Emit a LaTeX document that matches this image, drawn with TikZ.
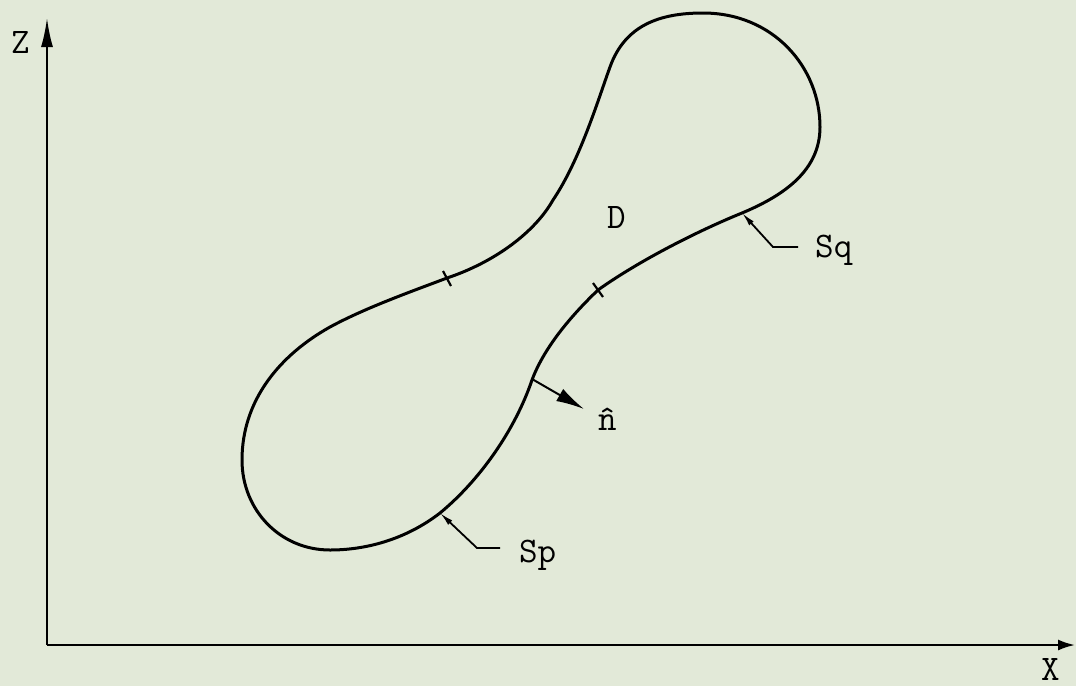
\documentclass[tikz,border=0pt]{standalone}
\usepackage{xcolor}
\usetikzlibrary{arrows.meta}
\definecolor{paper}{HTML}{E2E9D8}

\begin{document}
\begin{tikzpicture}[x=1pt,y=-1pt,
  axis/.style={line width=2.2pt,draw=black},
  bound/.style={line width=3pt,draw=black,line join=round},
  lbl/.style={font=\fontsize{36}{42}\selectfont\ttfamily,inner sep=0pt,anchor=base west},
  lead/.style={line width=1.8pt,{Latex[length=14pt,width=6pt]}-},
  tickmark/.style={line width=2.2pt}
]
% Background
\fill[paper] (0,0) rectangle (1076,686);
\useasboundingbox (0,0) rectangle (1076,686);

% Axes
\coordinate (O)  at (47,645);
\coordinate (zt) at (47,18);
\coordinate (xt) at (1075,645);
\draw[axis,-{Latex[length=29pt,width=12pt]}] (O) -- (zt);
\draw[axis,-{Latex[length=17pt,width=11pt]}] (O) -- (xt);
\node[lbl] (zl) at (11,53)   {Z};
\node[lbl] (xl) at (1041,680) {X};

% Boundary of D
\draw[bound] (703,13) .. controls (773,13) and (820,67) .. (820,127)
  .. controls (820,170) and (785,195) .. (742,213)
  .. controls (700,230) and (640,260) .. (598,290)
  .. controls (575,312) and (545,345) .. (532,380)
  .. controls (515,430) and (480,480) .. (440,513)
  .. controls (405,540) and (365,550) .. (330,550)
  .. controls (280,550) and (242,510) .. (242,460)
  .. controls (242,400) and (280,355) .. (330,327)
  .. controls (365,308) and (410,292) .. (447,278)
  .. controls (495,262) and (535,232) .. (553,200)
  .. controls (580,160) and (598,100) .. (610,67)
  .. controls (625,25) and (660,13) .. cycle;
\node[lbl] (dl) at (607,228) {D};

% Ticks between Sp and Sq
\draw[tickmark] (443,271) -- (451,286);
\draw[tickmark] (593,283) -- (603,297);

% Leaders
\coordinate (sq) at (742,213);
\coordinate (sp) at (440,513);
\draw[lead] (sq) -- (773,247) -- (798,247);
\draw[lead] (sp) -- (477,548) -- (500,548);
\node[lbl] (sql) at (815,257) {Sq};
\node[lbl] (spl) at (519,562) {Sp};

% Normal
\coordinate (nb) at (532,379);
\coordinate (nt) at (584,409);
\draw[line width=2pt,-{Latex[length=28pt,width=14pt]}] (nb) -- (nt);
\node[lbl] (nl) at (598,430) {\^{n}};
\end{tikzpicture}
\end{document}
